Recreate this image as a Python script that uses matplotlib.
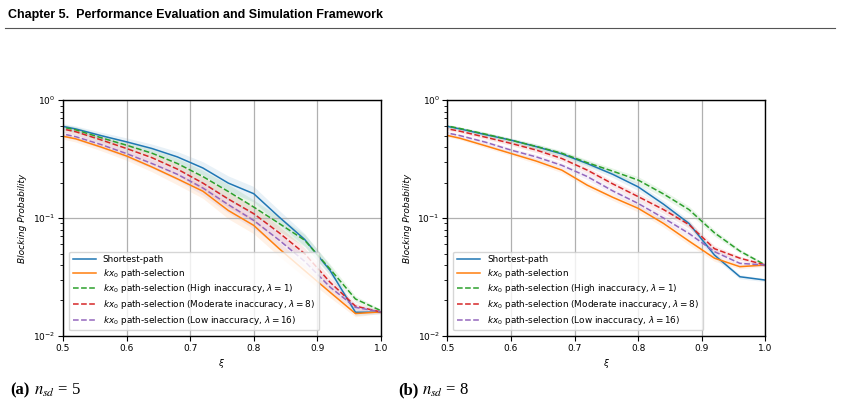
import matplotlib
matplotlib.use('Agg')
import matplotlib.pyplot as plt
import numpy as np

# Offered load grid (axis starts at 0.5)
xi = [0.48, 0.52, 0.56, 0.60, 0.64, 0.68, 0.72, 0.76, 0.80, 0.84, 0.88, 0.92, 0.96, 1.00]

# (a) n_sd = 5
a_shortest = [0.63, 0.57, 0.50, 0.443, 0.389, 0.33, 0.266, 0.198, 0.161, 0.102, 0.066, 0.036, 0.0159, 0.0159]
a_kx0      = [0.52, 0.47, 0.40, 0.336, 0.271, 0.215, 0.169, 0.116, 0.0867, 0.055, 0.0359, 0.0235, 0.0155, 0.016]
a_high     = [0.62, 0.56, 0.48, 0.415, 0.355, 0.29, 0.225, 0.168, 0.124, 0.09, 0.065, 0.037, 0.0206, 0.0164]
a_moderate = [0.60, 0.54, 0.46, 0.389, 0.325, 0.26, 0.198, 0.145, 0.109, 0.075, 0.05, 0.0286, 0.0179, 0.016]
a_low      = [0.545, 0.49, 0.42, 0.352, 0.29, 0.235, 0.18, 0.13, 0.0955, 0.065, 0.043, 0.026, 0.0175, 0.016]
a_spread   = [0.05, 0.06, 0.07, 0.08, 0.09, 0.11, 0.13, 0.15, 0.15, 0.14, 0.12, 0.10, 0.06, 0.03]

# (b) n_sd = 8
b_shortest = [0.63, 0.57, 0.51, 0.458, 0.403, 0.35, 0.29, 0.235, 0.184, 0.131, 0.09, 0.0486, 0.0318, 0.0298]
b_kx0      = [0.53, 0.475, 0.41, 0.353, 0.304, 0.255, 0.19, 0.15, 0.121, 0.09, 0.0638, 0.0457, 0.0387, 0.040]
b_high     = [0.635, 0.575, 0.515, 0.458, 0.405, 0.355, 0.295, 0.25, 0.21, 0.16, 0.118, 0.075, 0.0525, 0.040]
b_moderate = [0.60, 0.545, 0.485, 0.43, 0.377, 0.32, 0.255, 0.195, 0.152, 0.118, 0.088, 0.055, 0.0457, 0.040]
b_low      = [0.555, 0.50, 0.44, 0.377, 0.33, 0.28, 0.225, 0.17, 0.133, 0.1, 0.074, 0.0519, 0.0413, 0.040]
b_spread   = [0.03, 0.03, 0.04, 0.04, 0.05, 0.05, 0.06, 0.06, 0.07, 0.07, 0.07, 0.06, 0.04, 0.03]

labels = ['Shortest-path',
          r'$kx_0$ path-selection',
          r'$kx_0$ path-selection (High inaccuracy, $\lambda = 1$)',
          r'$kx_0$ path-selection (Moderate inaccuracy, $\lambda = 8$)',
          r'$kx_0$ path-selection (Low inaccuracy, $\lambda = 16$)']
colors = ['#1f77b4', '#ff7f0e', '#2ca02c', '#d62728', '#9467bd']
styles = ['-', '-', '--', '--', '--']

panels = [
    ([a_shortest, a_kx0, a_high, a_moderate, a_low], a_spread, 0.0749),
    ([b_shortest, b_kx0, b_high, b_moderate, b_low], b_spread, 0.532),
]

fig = plt.figure(figsize=(8.41, 4.08), dpi=100, facecolor='white')

# Page header
fig.text(0.009, 0.963, 'Chapter 5.  Performance Evaluation and Simulation Framework',
         fontsize=9.0, fontweight='bold', family='Liberation Sans',
         va='center', ha='left')
fig.add_artist(plt.Line2D([0.006, 0.993], [0.932, 0.932], color='#555555', lw=0.8))

for series, spread, left in panels:
    ax = fig.add_axes([left, 0.1765, 0.378, 0.578])
    sp = np.array(spread)
    for vals, lab, c, ls in zip(series, labels, colors, styles):
        v = np.array(vals)
        ax.fill_between(xi, v * (1 - sp), v * (1 + sp), color=c, alpha=0.1, lw=0)
        ax.plot(xi, v, color=c, ls=ls, lw=1.1, label=lab)
    ax.set_yscale('log')
    ax.set_xlim(0.5, 1.0)
    ax.set_ylim(0.01, 1.0)
    ax.grid(True, which='major', color='#b0b0b0', lw=0.9)
    ax.tick_params(labelsize=6.5, width=0.8, length=3.5, pad=2)
    ax.tick_params(which='minor', width=0.6, length=2)
    for s in ax.spines.values():
        s.set_linewidth(1.0)
    ax.set_ylabel('Blocking Probability', fontsize=6.5, style='italic', labelpad=4)
    ax.set_xlabel(r'$\xi$', fontsize=6.5, labelpad=3)
    ax.legend(loc='lower left', fontsize=6.4, frameon=True, handlelength=2.6,
              borderpad=0.4, labelspacing=0.3, bbox_to_anchor=(0.005, 0.005))

# Sub-captions
for x, tag, n in [(0.012, '(a)', 5), (0.473, '(b)', 8)]:
    fig.text(x, 0.043, tag, fontsize=12, fontweight='bold', family='Liberation Serif', va='center')
    fig.text(x + 0.029, 0.043, r'$n_{sd}$ = %d' % n, fontsize=12, family='Liberation Serif',
             math_fontfamily='stix', va='center')

plt.savefig('out.png', dpi=100)
